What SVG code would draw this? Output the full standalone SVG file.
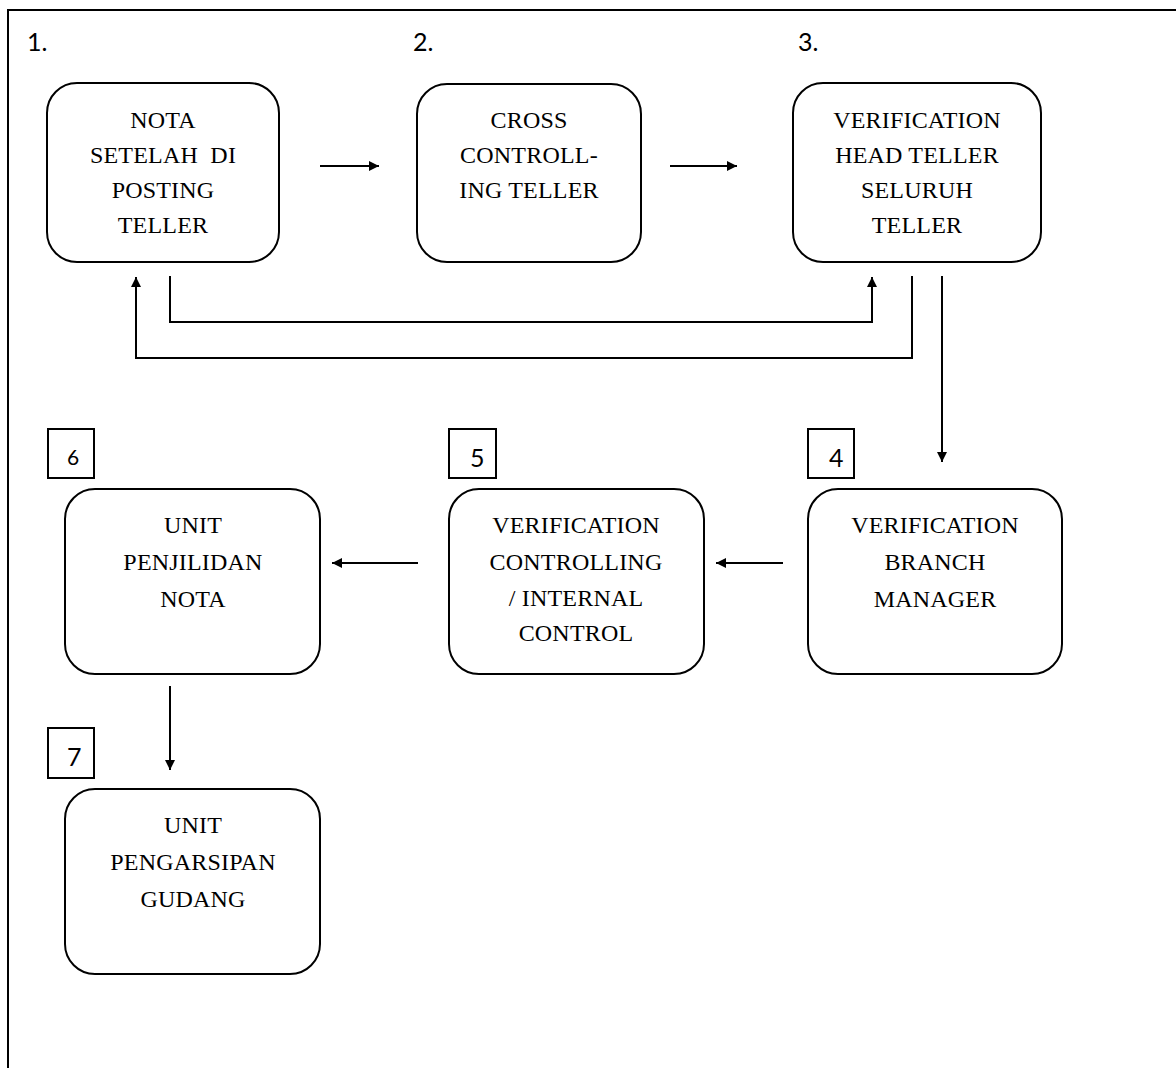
<svg xmlns="http://www.w3.org/2000/svg" width="1176" height="1068" viewBox="0 0 1176 1068">
<defs>
<style>
.frame{fill:none;stroke:#000;stroke-width:2}
.node{fill:#fff;stroke:#000;stroke-width:2}
.num{fill:#fff;stroke:#000;stroke-width:2}
.t{font-family:"Liberation Serif","Times New Roman",serif;font-size:24px;fill:#000;text-anchor:middle;letter-spacing:0.2px;white-space:pre}
.n{font-family:Lato,"Open Sans",sans-serif;font-size:25px;fill:#000}
.c{fill:none;stroke:#000;stroke-width:2}
</style>
<marker id="ah" viewBox="0 0 10 10" refX="10" refY="5" markerWidth="11" markerHeight="10" markerUnits="userSpaceOnUse" orient="auto">
<path d="M0,0 L10,5 L0,10 Z" fill="#000"/>
</marker>
</defs>
<rect width="1176" height="1068" fill="#fff"/>
<path class="frame" d="M8,1068 V10 H1176"/>
<text class="n" x="27" y="51">1.</text>
<text class="n" x="413" y="51">2.</text>
<text class="n" x="798" y="51">3.</text>
<g id="node1">
<rect class="node" x="47" y="83" width="232" height="179" rx="30"/>
<text class="t" x="163" y="128">NOTA</text>
<text class="t" x="163" y="163" xml:space="preserve">SETELAH  DI</text>
<text class="t" x="163" y="198">POSTING</text>
<text class="t" x="163" y="233">TELLER</text>
</g>
<g id="node2">
<rect class="node" x="417" y="84" width="224" height="178" rx="30"/>
<text class="t" x="529" y="128">CROSS</text>
<text class="t" x="529" y="163">CONTROLL-</text>
<text class="t" x="529" y="198">ING TELLER</text>
</g>
<g id="node3">
<rect class="node" x="793" y="83" width="248" height="179" rx="30"/>
<text class="t" x="917" y="128">VERIFICATION</text>
<text class="t" x="917" y="163">HEAD TELLER</text>
<text class="t" x="917" y="198">SELURUH</text>
<text class="t" x="917" y="233">TELLER</text>
</g>
<g id="node4">
<rect class="num" x="808" y="429" width="46" height="49"/>
<text class="n" x="829" y="467">4</text>
<rect class="node" x="808" y="489" width="254" height="185" rx="30"/>
<text class="t" x="935" y="533">VERIFICATION</text>
<text class="t" x="935" y="570">BRANCH</text>
<text class="t" x="935" y="607">MANAGER</text>
</g>
<g id="node5">
<rect class="num" x="449" y="429" width="47" height="49"/>
<text class="n" x="470" y="467">5</text>
<rect class="node" x="449" y="489" width="255" height="185" rx="30"/>
<text class="t" x="576" y="533">VERIFICATION</text>
<text class="t" x="576" y="570">CONTROLLING</text>
<text class="t" x="576" y="606">/ INTERNAL</text>
<text class="t" x="576" y="641">CONTROL</text>
</g>
<g id="node6">
<rect class="num" x="48" y="429" width="46" height="49"/>
<text class="n" x="67" y="465" style="font-size:21px">6</text>
<rect class="node" x="65" y="489" width="255" height="185" rx="30"/>
<text class="t" x="193" y="533">UNIT</text>
<text class="t" x="193" y="570">PENJILIDAN</text>
<text class="t" x="193" y="607">NOTA</text>
</g>
<g id="node7">
<rect class="num" x="48" y="728" width="46" height="50"/>
<text class="n" x="67" y="766">7</text>
<rect class="node" x="65" y="789" width="255" height="185" rx="30"/>
<text class="t" x="193" y="833">UNIT</text>
<text class="t" x="193" y="870">PENGARSIPAN</text>
<text class="t" x="193" y="907">GUDANG</text>
</g>
<g id="connectors">
<path class="c" d="M320,166 H379" marker-end="url(#ah)"/>
<path class="c" d="M670,166 H737" marker-end="url(#ah)"/>
<path class="c" d="M170,276 V322 H872 V277" marker-end="url(#ah)"/>
<path class="c" d="M912,276 V358 H136 V277" marker-end="url(#ah)"/>
<path class="c" d="M942,276 V462" marker-end="url(#ah)"/>
<path class="c" d="M783,563 H716" marker-end="url(#ah)"/>
<path class="c" d="M418,563 H332" marker-end="url(#ah)"/>
<path class="c" d="M170,686 V770" marker-end="url(#ah)"/>
</g>
</svg>
